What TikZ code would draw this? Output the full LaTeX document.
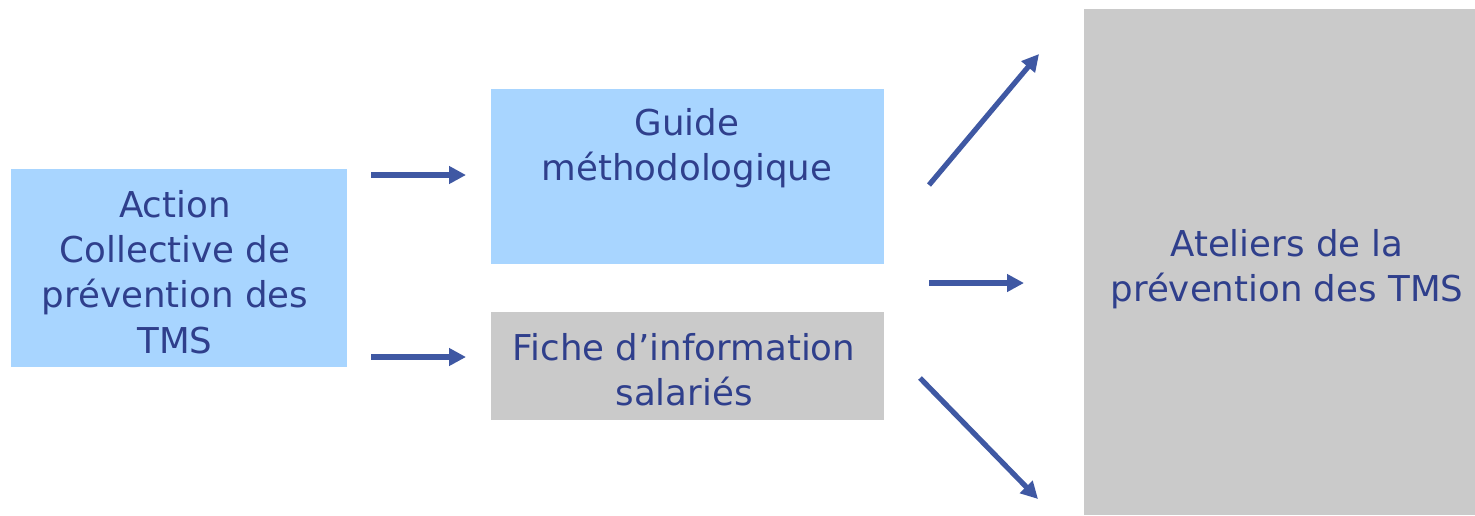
\documentclass[tikz,border=0pt]{standalone}
\usepackage{fontspec}
\setmainfont{DejaVu Sans}
\usetikzlibrary{arrows.meta}
\definecolor{boxblue}{HTML}{A8D5FF}
\definecolor{boxgray}{HTML}{CACACA}
\definecolor{txtblue}{HTML}{2F3F8C}
\definecolor{arrblue}{HTML}{3F58A3}
\begin{document}
\begin{tikzpicture}[x=0.5pt,y=-0.5pt,
  box/.style={rectangle,draw=none,inner sep=0pt,outer sep=0pt},
  txt/.style={align=center,text=txtblue,font=\fontsize{17.8}{22.6}\selectfont,inner sep=0pt},
  arr/.style={draw=arrblue,line width=2.6pt,-{Triangle[length=8.5pt,width=8.5pt]}}]
\useasboundingbox[fill=white] (0,0) rectangle (1475,515);
% boxes
\node[box,fill=boxblue,minimum width=168pt,minimum height=99pt] (action) at (179,268) {};
\node[box,fill=boxblue,minimum width=196.5pt,minimum height=87.5pt] (guide) at (687.5,176.5) {};
\node[box,fill=boxgray,minimum width=196.5pt,minimum height=54pt] (fiche) at (687.5,366) {};
\node[box,fill=boxgray,minimum width=195.5pt,minimum height=253pt] (ateliers) at (1279.5,262) {};
% texts
\node[txt] (actiontxt) at (175,272) {Action\\Collective de\\prévention des\\TMS};
\node[txt] (guidetxt) at (687,148) {Guide\\méthodologique};
\node[txt] (fichetxt) at (684,370) {Fiche d’information\\salariés};
\node[txt] (ateltxt) at (1287,269) {Ateliers de la\\prévention des TMS};
% arrow endpoints
\coordinate (a1s) at (371,175); \coordinate (a1e) at (466,175);
\coordinate (a2s) at (371,357); \coordinate (a2e) at (466,357);
\coordinate (a3s) at (929,185); \coordinate (a3e) at (1039,54);
\coordinate (a4s) at (929,283); \coordinate (a4e) at (1024,283);
\coordinate (a5s) at (920,378); \coordinate (a5e) at (1038,499);
\draw[arr] (a1s) -- (a1e);
\draw[arr] (a2s) -- (a2e);
\draw[arr] (a3s) -- (a3e);
\draw[arr] (a4s) -- (a4e);
\draw[arr] (a5s) -- (a5e);
\end{tikzpicture}
\end{document}
